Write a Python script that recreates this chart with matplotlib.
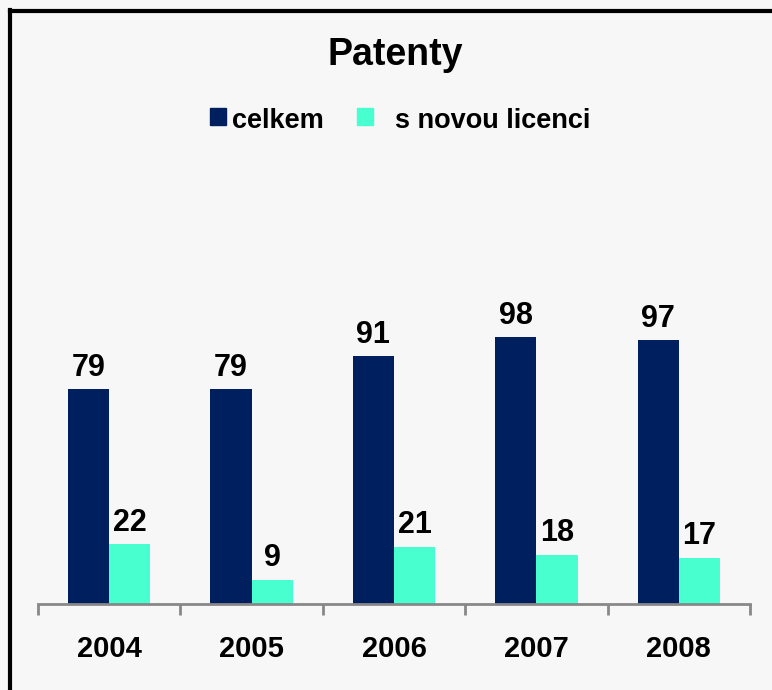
import numpy as np
import matplotlib.pyplot as plt
from matplotlib.lines import Line2D
from matplotlib.patches import Rectangle

roky = ['2004', '2005', '2006', '2007', '2008']
celkem = [79, 79, 91, 98, 97]
licence = [22, 9, 21, 18, 17]
nazvy = ['celkem', 's novou licenci']

navy = '#001f5f'
aqua = '#47ffcf'

plt.rcParams['font.family'] = ['Liberation Sans', 'DejaVu Sans']
plt.rcParams['font.weight'] = 'bold'

W, H = 772, 690
fig = plt.figure(figsize=(W / 100, H / 100), dpi=100, facecolor='#f7f7f7')
ax = fig.add_axes([38 / W, (H - 604) / H, (750 - 38) / W, (604 - 150) / H])
ax.set_facecolor('none')

x = np.arange(len(roky))
w = 0.29
b1 = ax.bar(x - w / 2, celkem, w, color=navy)
b2 = ax.bar(x + w / 2, licence, w, color=aqua)

for bars, vals in ((b1, celkem), (b2, licence)):
    for r, v in zip(bars, vals):
        ax.text(r.get_x() + r.get_width() / 2, v + 5, str(v), ha='center', va='baseline',
                fontsize=22, fontweight='bold')

ax.set_xlim(-0.5, len(roky) - 0.5)
ax.set_ylim(0, 454 / 2.72)
ax.set_yticks([])
for s in ['left', 'right', 'top']:
    ax.spines[s].set_visible(False)
ax.spines['bottom'].set_color('#888888')
ax.spines['bottom'].set_linewidth(2)
ax.set_xticks(np.arange(len(roky) + 1) - 0.5)
ax.set_xticklabels([])
ax.tick_params(axis='x', which='major', length=8, width=2, color='#888888')
ax.set_xticks(x, minor=True)
ax.set_xticklabels(roky, minor=True, fontsize=21, fontweight='bold')
ax.tick_params(axis='x', which='minor', length=0, pad=22)

fig.text(395 / W, 1 - 65 / H, 'Patenty', ha='center', va='baseline', fontsize=27, fontweight='bold')

# legenda
for (sx, tx), barva, nazev in zip([(210, 232), (357, 395)], [navy, aqua], nazvy):
    fig.add_artist(Rectangle((sx / W, 1 - 125 / H), 16 / W, 17 / H, color=barva, transform=fig.transFigure))
    fig.text(tx / W, 1 - 128 / H, nazev, ha='left', va='baseline', fontsize=19.5, fontweight='bold')

fig.add_artist(Line2D([9.5 / W, 9.5 / W], [0, 1 - 9.5 / H], color='black', lw=3, transform=fig.transFigure))
fig.add_artist(Line2D([9.5 / W, 1], [1 - 10.5 / H, 1 - 10.5 / H], color='black', lw=3, transform=fig.transFigure))

fig.savefig('out.png', dpi=100, facecolor=fig.get_facecolor())
